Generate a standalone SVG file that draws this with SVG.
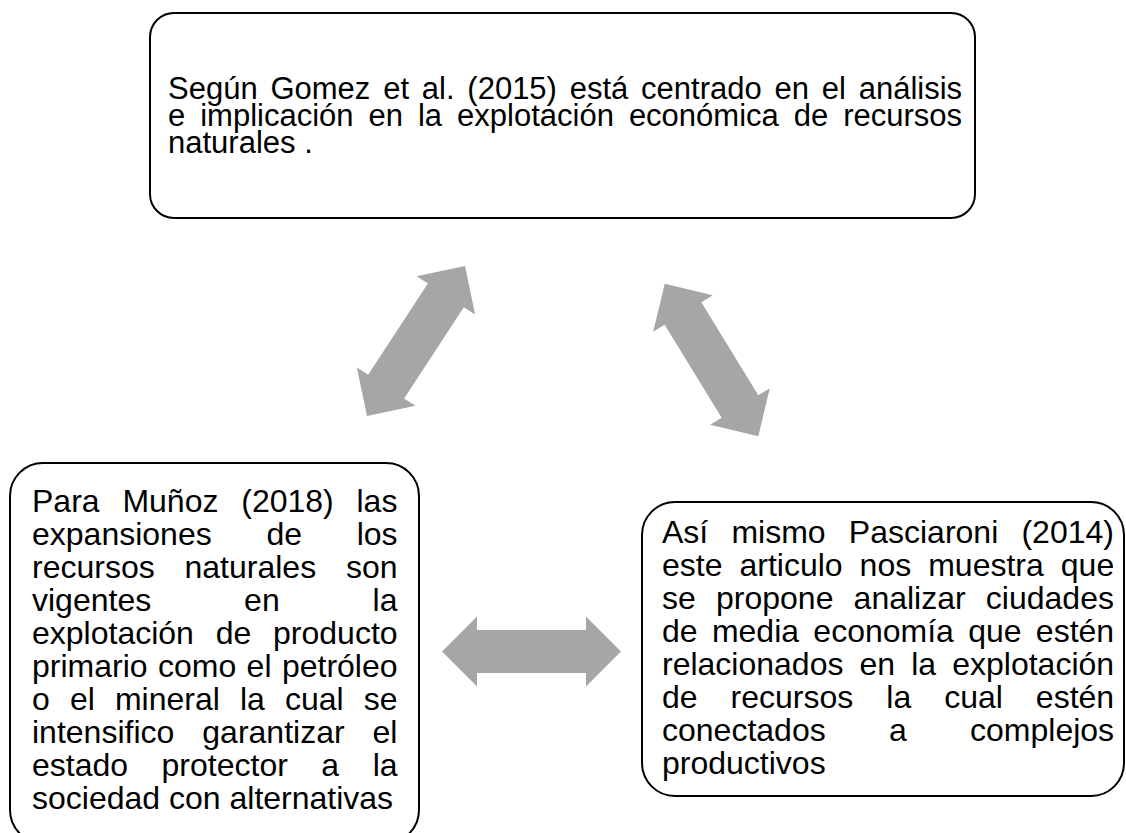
<svg xmlns="http://www.w3.org/2000/svg" xmlns:xlink="http://www.w3.org/1999/xlink" width="1126" height="833" viewBox="0 0 1126 833">
<style>
.box{fill:#fff;stroke:#000;stroke-width:2}
.t{font-family:"Liberation Sans",Arial,sans-serif;font-size:32px;fill:#000;font-kerning:none}
.tt{font-size:31px}
.arr{fill:#A6A6A6}
</style>
<defs>
<polygon id="dbl" points="-89.5,0 -54.5,-35 -54.5,-21.5 54.5,-21.5 54.5,-35 89.5,0 54.5,35 54.5,21.5 -54.5,21.5 -54.5,35"/>
</defs>
<rect width="1126" height="833" fill="#fff"/>
<g id="connectors" class="arr">
<use xlink:href="#dbl" href="#dbl" transform="translate(416,341) rotate(-56.8)"/>
<use xlink:href="#dbl" href="#dbl" transform="translate(711.5,360) rotate(58.5)"/>
<use xlink:href="#dbl" href="#dbl" transform="translate(531.5,651.5)"/>
</g>
<g id="node-top">
<rect class="box" x="150" y="13" width="825" height="205" rx="24" ry="24"/>
<text class="t tt">
<tspan x="168" y="99" word-spacing="4.18">Según Gomez et al. (2015) está centrado en el análisis</tspan>
<tspan x="168" y="126" word-spacing="6.36">e implicación en la explotación económica de recursos</tspan>
<tspan x="168" y="153">naturales .</tspan>
</text>
</g>
<g id="node-left">
<rect class="box" x="10" y="463" width="409" height="380" rx="33" ry="33"/>
<text class="t">
<tspan x="32" y="512" word-spacing="13.9">Para Muñoz (2018) las</tspan>
<tspan x="32" y="545" word-spacing="45.8">expansiones de los</tspan>
<tspan x="32" y="578" word-spacing="20.9">recursos naturales son</tspan>
<tspan x="32" y="611" word-spacing="84.0">vigentes en la</tspan>
<tspan x="32" y="644" word-spacing="12.9">explotación de producto</tspan>
<tspan x="32" y="677" word-spacing="1.5">primario como el petróleo</tspan>
<tspan x="32" y="710" word-spacing="11.2">o el mineral la cual se</tspan>
<tspan x="32" y="743" word-spacing="19.1">intensifico garantizar el</tspan>
<tspan x="32" y="776" word-spacing="24.6">estado protector a la</tspan>
<tspan x="32" y="809">sociedad con alternativas</tspan>
</text>
</g>
<g id="node-right">
<rect class="box" x="642" y="502" width="482" height="294" rx="33" ry="33"/>
<text class="t">
<tspan x="662" y="543" word-spacing="14.3">Así mismo Pasciaroni (2014)</tspan>
<tspan x="662" y="576" word-spacing="8.1">este articulo nos muestra que</tspan>
<tspan x="662" y="609" word-spacing="11.3">se propone analizar ciudades</tspan>
<tspan x="662" y="642" word-spacing="5.4">de media economía que estén</tspan>
<tspan x="662" y="675" word-spacing="7.2">relacionados en la explotación</tspan>
<tspan x="662" y="708" word-spacing="24.1">de recursos la cual estén</tspan>
<tspan x="662" y="741" word-spacing="54.4">conectados a complejos</tspan>
<tspan x="662" y="774">productivos</tspan>
</text>
</g>
</svg>
